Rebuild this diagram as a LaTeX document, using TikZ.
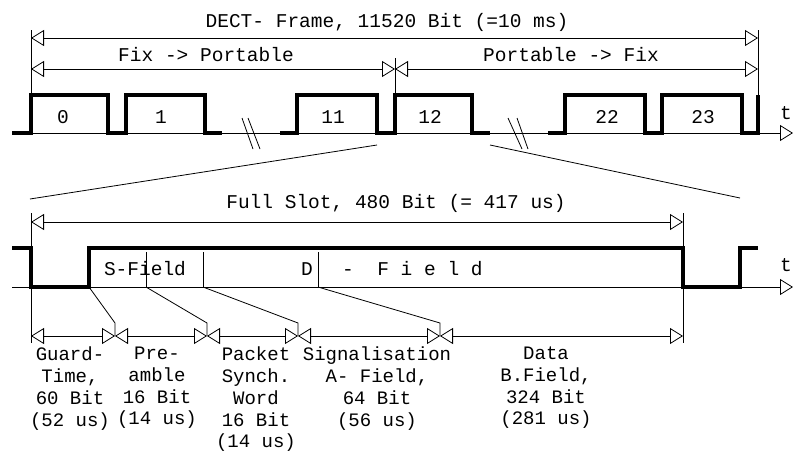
\documentclass[tikz,border=0pt]{standalone}
\usepackage{fontspec}
\setmonofont{Liberation Mono}
\usetikzlibrary{arrows.meta}

\begin{document}
\begin{tikzpicture}[x=1pt,y=-1pt, every node/.style={font=\ttfamily\fontsize{19.5}{21.7}\selectfont, align=center, inner sep=0pt}]
\tikzset{
  pulse/.style={line width=4.8pt, line join=miter},
  hair/.style={line width=0.8pt},
  dim/.style={{Triangle[open,length=13pt,width=16pt]}-{Triangle[open,length=13pt,width=16pt]}, line width=0.8pt},
  axis/.style={-{Triangle[open,length=13pt,width=16pt]}, line width=0.8pt},
  fieldlabel/.style={anchor=north, font=\ttfamily\fontsize{19}{21.7}\selectfont}
}
  \useasboundingbox (0,0) rectangle (793,453);

  % frame: dimension points
  \coordinate (fL) at (31,38);   \coordinate (fR) at (758,38);
  \coordinate (hL) at (31,69);   \coordinate (hM) at (395,69);  \coordinate (hR) at (758,69);
  \draw[hair] (31,30) -- (31,95);
  \draw[hair] (758,30) -- (758,95);
  \draw[hair] (395,58) -- (395,95);
  \draw[dim] (fL) -- (fR);
  \draw[dim] (hL) -- (hM);
  \draw[dim] (hM) -- (hR);
  \node (title) at (387,22) {DECT- Frame, 11520 Bit (=10 ms)};
  \node (fixport) at (206,55) {Fix -> Portable};
  \node (portfix) at (571,55) {Portable -> Fix};

  % frame: time axis and slots
  \coordinate (a0) at (12,133);  \coordinate (a1) at (793,133);
  \draw[axis] (a0) -- (a1);
  \node (tA) at (786,113) {t};
  \draw[pulse] (12,133) -| (31,95) -| (108,133) -| (126,95) -| (205,133) -- (222,133);
  \draw[pulse] (280,133) -| (297,95) -| (377,133) -| (395,95) -| (472,133) -- (490,133);
  \draw[pulse] (548,133) -| (565,95) -| (645,133) -| (662,95) -| (742,133) -| (758,95);
  \draw[hair] (242,118) -- (253,149);
  \draw[hair] (248,118) -- (260,149);
  \draw[hair] (508,118) -- (522,149);
  \draw[hair] (517,118) -- (528,149);
  \node (s0) at (63,117) {0};
  \node (s1) at (161,117) {1};
  \node (s11) at (333,117) {11};
  \node (s12) at (430,117) {12};
  \node (s22) at (607,117) {22};
  \node (s23) at (703,117) {23};

  % zoom onto slot 12
  \draw[hair] (30,199) -- (377,145);
  \draw[hair] (490,145) -- (740,198);

  % full slot
  \coordinate (gL) at (31,222);  \coordinate (gR) at (683,222);
  \draw[hair] (31,213) -- (31,343);
  \draw[hair] (683,213) -- (683,343);
  \draw[dim] (gL) -- (gR);
  \node (fullslot) at (396,203) {Full Slot, 480 Bit (= 417 us)};
  \coordinate (b0) at (12,287);  \coordinate (b1) at (793,287);
  \draw[axis] (b0) -- (b1);
  \node (tB) at (786,265) {t};
  \draw[pulse] (12,248) -| (31,287) -| (89,248) -| (683,287) -| (740,248) -- (758,248);
  \foreach \x in {146,203,318}
    \draw[hair] (\x,252) -- (\x,287);
  \node (sfield) at (145,269) {S-Field};
  \node (dA) at (307,269) {D};
  \node[anchor=west] (dB) at (342,269) {-~~F~i~e~l~d};

  % field widths
  \foreach \n/\x in {j0/31, j1/115, j2/207, j3/298, j4/440, j5/683}
    \coordinate (\n) at (\x,336);
  \foreach \a/\b in {j0/j1, j1/j2, j2/j3, j3/j4, j4/j5}
    \draw[dim] (\a) -- (\b);
  \foreach \j/\x/\e in {j1/115/89, j2/207/146, j3/298/203, j4/440/318}
    \draw[hair] (\j) -- (\x,323) -- (\e,287);
  \node[fieldlabel] (guard) at (70,347) {Guard-\\Time,\\60 Bit\\(52 us)};
  \node[fieldlabel] (pre) at (157,347) {Pre-\\amble\\16 Bit\\(14 us)};
  \node[fieldlabel] (synch) at (256,347) {Packet\\Synch.\\Word\\16 Bit\\(14 us)};
  \node[fieldlabel] (afield) at (377,347) {Signalisation\\A- Field,\\64 Bit\\(56 us)};
  \node[fieldlabel] (bfield) at (546,347) {Data\\B.Field,\\324 Bit\\(281 us)};
\end{tikzpicture}
\end{document}
